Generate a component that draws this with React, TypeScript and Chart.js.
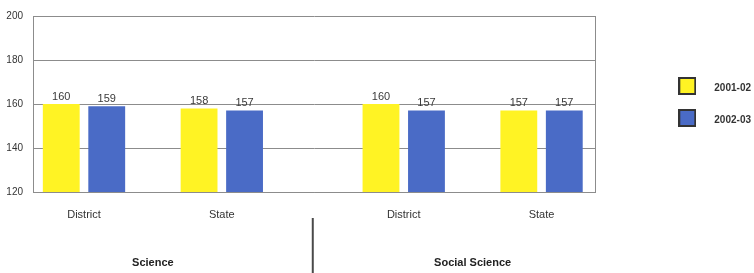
import { useEffect, useRef } from "react";
import { Chart, registerables } from "chart.js";

Chart.register(...registerables);

// ---- data ----
const groups = ["Science", "Social Science"];
const subCategories = ["District", "State"];
const seriesLabels = ["2001-02", "2002-03"];
const values2001 = [160, 158, 160, 157];
const values2002 = [159, 157, 157, 157];
const yTicks = [120, 140, 160, 180, 200];

// ---- layout constants (not data) ----
const GROUP_STEP = 2.32; // distance between the first bars of consecutive groups, in category units
const X_MIN = -0.37;
const X_MAX = 3.71;
const SERIES_COLORS = ["#FFF324", "#4A6BC6"];

const xPositions = groups.flatMap((_, gi) => subCategories.map((_, si) => gi * GROUP_STEP + si));
const groupCenters = groups.map((_, gi) => gi * GROUP_STEP + (subCategories.length - 1) / 2);

const FONT = "'Liberation Sans', Arial, sans-serif";

// legend swatch: 18px box, drawn in the upper part of a taller canvas so it sits a little above the text centre
function makeSwatch(color: string) {
  const c = document.createElement("canvas");
  c.width = 18;
  c.height = 22;
  const g = c.getContext("2d")!;
  g.fillStyle = color;
  g.fillRect(0, 0, 18, 18);
  g.strokeStyle = "#333333";
  g.lineWidth = 2;
  g.strokeRect(1, 1, 16, 16);
  return c;
}

const valueLabelPlugin = {
  id: "valueLabels",
  afterDatasetsDraw(chart: any) {
    const ctx = chart.ctx;
    ctx.save();
    ctx.font = `11px ${FONT}`;
    ctx.fillStyle = "#3a3a3a";
    ctx.textAlign = "center";
    ctx.textBaseline = "bottom";
    chart.data.datasets.forEach((ds: any, di: number) => {
      const meta = chart.getDatasetMeta(di);
      meta.data.forEach((bar: any, i: number) => {
        ctx.fillText(String(ds.data[i].y), bar.x, bar.y - 2);
      });
    });
    ctx.restore();
  },
};

const separatorPlugin = {
  id: "groupSeparator",
  afterDraw(chart: any) {
    const x = chart.scales.x;
    const ctx = chart.ctx;
    const lastOfFirst = xPositions[subCategories.length - 1];
    const firstOfSecond = xPositions[subCategories.length];
    const px = x.getPixelForValue((lastOfFirst + firstOfSecond) / 2);
    ctx.save();
    ctx.strokeStyle = "#4a4a4a";
    ctx.lineWidth = 2;
    ctx.beginPath();
    ctx.moveTo(px, chart.chartArea.bottom + 26);
    ctx.lineTo(px, chart.height);
    ctx.stroke();
    ctx.restore();
  },
};

export default function App() {
  const canvasRef = useRef<HTMLCanvasElement | null>(null);

  useEffect(() => {
    const canvas = canvasRef.current;
    if (!canvas) return;
    const gridColor = "#8c8c8c";
    const swatches = SERIES_COLORS.map(makeSwatch);
    const chart = new Chart(canvas, {
      type: "bar",
      data: {
        datasets: [
          {
            label: seriesLabels[0],
            data: values2001.map((v, i) => ({ x: xPositions[i], y: v })),
            backgroundColor: SERIES_COLORS[0],
            borderWidth: 0,
            categoryPercentage: 0.66,
            barPercentage: 0.81,
          },
          {
            label: seriesLabels[1],
            data: values2002.map((v, i) => ({ x: xPositions[i], y: v })),
            backgroundColor: SERIES_COLORS[1],
            borderWidth: 0,
            categoryPercentage: 0.66,
            barPercentage: 0.81,
          },
        ] as any,
      },
      plugins: [valueLabelPlugin, separatorPlugin],
      options: {
        responsive: false,
        animation: false,
        layout: { padding: { top: 14, right: -7, bottom: 0, left: 0 } },
        plugins: {
          tooltip: { enabled: false },
          legend: {
            position: "right",
            align: "center",
            fullSize: false,
            labels: {
              usePointStyle: true,
              pointStyleWidth: 44,
              padding: 22,
              color: "#333",
              font: { family: FONT, size: 10, weight: "bold" },
              generateLabels(chart: any) {
                return chart.data.datasets.map((ds: any, i: number) => ({
                  text: ds.label,
                  fillStyle: ds.backgroundColor,
                  strokeStyle: "#333",
                  pointStyle: swatches[i],
                  lineWidth: 0,
                  hidden: false,
                  datasetIndex: i,
                  fontColor: "#333",
                }));
              },
            },
          },
        },
        scales: {
          x: {
            type: "linear",
            position: "bottom",
            min: X_MIN,
            max: X_MAX,
            offset: false,
            grid: { display: false },
            border: { display: true, color: gridColor },
            afterBuildTicks(axis: any) {
              axis.ticks = xPositions.map((v) => ({ value: v }));
            },
            afterFit(axis: any) {
              axis.height = 40;
            },
            ticks: {
              autoSkip: false,
              maxRotation: 0,
              padding: 8,
              color: "#333",
              font: { family: FONT, size: 11 },
              callback: (_v: any, i: number) => subCategories[i % subCategories.length],
            },
          },
          x2: {
            type: "linear",
            position: "bottom",
            min: X_MIN,
            max: X_MAX,
            offset: false,
            grid: { display: false },
            border: { display: false },
            afterBuildTicks(axis: any) {
              axis.ticks = groupCenters.map((v) => ({ value: v }));
            },
            afterFit(axis: any) {
              axis.height = 41;
            },
            ticks: {
              autoSkip: false,
              maxRotation: 0,
              padding: 16,
              color: "#222",
              font: { family: FONT, size: 11, weight: "bold" },
              callback: (_v: any, i: number) => groups[i],
            },
          },
          y: {
            type: "linear",
            position: "left",
            min: yTicks[0],
            max: yTicks[yTicks.length - 1],
            afterBuildTicks(axis: any) {
              axis.ticks = yTicks.map((v) => ({ value: v }));
            },
            afterFit(axis: any) {
              axis.width = 33;
            },
            grid: { color: gridColor, lineWidth: 1, drawTicks: false },
            border: { display: true, color: gridColor },
            ticks: {
              padding: 10,
              color: "#333",
              font: { family: FONT, size: 10 },
            },
          },
          y2: {
            type: "linear",
            position: "right",
            min: yTicks[0],
            max: yTicks[yTicks.length - 1],
            grid: { display: false, drawOnChartArea: false, drawTicks: false },
            border: { display: true, color: gridColor },
            ticks: { display: false },
            afterFit(axis: any) {
              axis.width = 48;
            },
          },
        },
      } as any,
    });
    return () => chart.destroy();
  }, []);

  return (
    <div
      style={{
        position: "fixed",
        left: 0,
        top: 0,
        width: 754,
        height: 273,
        background: "#fff",
      }}
    >
      <canvas ref={canvasRef} width={754} height={273} style={{ display: "block" }} />
    </div>
  );
}
